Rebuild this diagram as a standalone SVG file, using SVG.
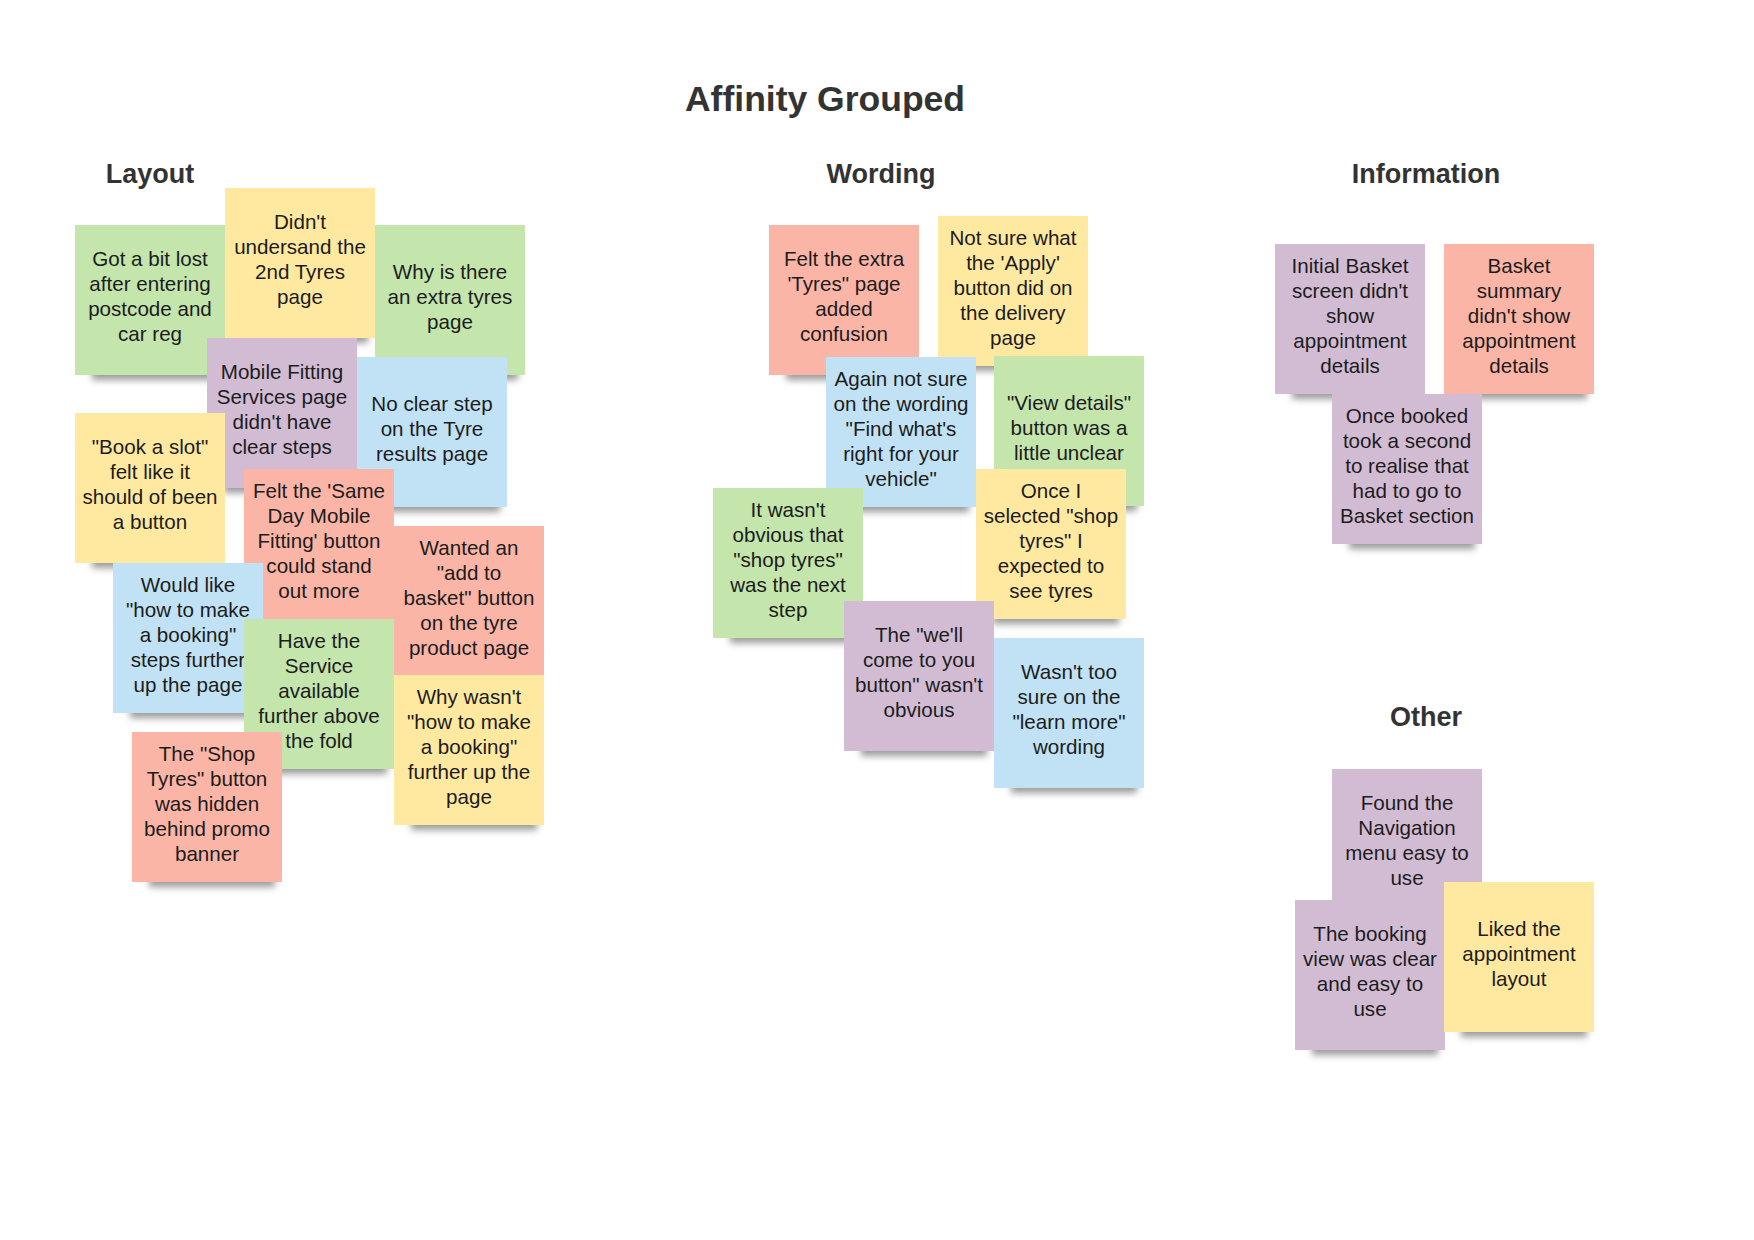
<svg xmlns="http://www.w3.org/2000/svg" width="1754" height="1240" viewBox="0 0 1754 1240">
  <defs>
    <filter id="soft" x="-20%" y="-100%" width="140%" height="300%">
      <feGaussianBlur stdDeviation="3.5"/>
    </filter>
    <style>
      .title { font-family: "Liberation Sans", Arial, sans-serif; font-weight: bold; font-size: 35.5px; fill: #333; text-anchor: middle; }
      .head { font-family: "Liberation Sans", Arial, sans-serif; font-weight: bold; font-size: 27px; fill: #333; text-anchor: middle; }
      .note text { font-family: "Liberation Sans", Arial, sans-serif; font-size: 20.6px; fill: #1c1c1c; text-anchor: middle; transform: translateY(-2.5px); }
      .shadow { fill: #4a4a4a; opacity: 0.55; filter: url(#soft); }
      .green { fill: #c4e5ac; }
      .yellow { fill: #ffe9a0; }
      .purple { fill: #d2bcd4; }
      .blue { fill: #c1e2f4; }
      .red { fill: #fbb5a6; }
    </style>
  </defs>

  <rect width="1754" height="1240" fill="#ffffff"/>

  <text class="title" x="825" y="111">Affinity Grouped</text>
  <text class="head" x="150" y="183">Layout</text>
  <text class="head" x="881" y="183">Wording</text>
  <text class="head" x="1426" y="183">Information</text>
  <text class="head" x="1426" y="726">Other</text>

  <!-- Layout cluster -->
  <g id="layout-lost" class="note">
    <rect class="shadow" x="92" y="366" width="126" height="14"/>
    <rect class="green" x="75" y="225" width="150" height="150"/>
    <text x="150" y="268.5">Got a bit lost</text>
    <text x="150" y="293.5">after entering</text>
    <text x="150" y="318.5">postcode and</text>
    <text x="150" y="343.5">car reg</text>
  </g>
  <g id="layout-understand" class="note">
    <rect class="shadow" x="242" y="329" width="126" height="14"/>
    <rect class="yellow" x="225" y="188" width="150" height="150"/>
    <text x="300" y="231.5">Didn't</text>
    <text x="300" y="256.5">undersand the</text>
    <text x="300" y="281.5">2nd Tyres</text>
    <text x="300" y="306.5">page</text>
  </g>
  <g id="layout-extra-tyres" class="note">
    <rect class="shadow" x="392" y="366" width="126" height="14"/>
    <rect class="green" x="375" y="225" width="150" height="150"/>
    <text x="450" y="281">Why is there</text>
    <text x="450" y="306">an extra tyres</text>
    <text x="450" y="331">page</text>
  </g>
  <g id="layout-mobile-fitting" class="note">
    <rect class="shadow" x="224" y="479" width="126" height="14"/>
    <rect class="purple" x="207" y="338" width="150" height="150"/>
    <text x="282" y="381.5">Mobile Fitting</text>
    <text x="282" y="406.5">Services page</text>
    <text x="282" y="431.5">didn't have</text>
    <text x="282" y="456.5">clear steps</text>
  </g>
  <g id="layout-no-clear-step" class="note">
    <rect class="shadow" x="374" y="498" width="126" height="14"/>
    <rect class="blue" x="357" y="357" width="150" height="150"/>
    <text x="432" y="413">No clear step</text>
    <text x="432" y="438">on the Tyre</text>
    <text x="432" y="463">results page</text>
  </g>
  <g id="layout-book-slot" class="note">
    <rect class="shadow" x="92" y="554" width="126" height="14"/>
    <rect class="yellow" x="75" y="413" width="150" height="150"/>
    <text x="150" y="456.5">"Book a slot"</text>
    <text x="150" y="481.5">felt like it</text>
    <text x="150" y="506.5">should of been</text>
    <text x="150" y="531.5">a button</text>
  </g>
  <g id="layout-same-day" class="note">
    <rect class="shadow" x="261" y="610" width="126" height="14"/>
    <rect class="red" x="244" y="469" width="150" height="150"/>
    <text x="319" y="500">Felt the 'Same</text>
    <text x="319" y="525">Day Mobile</text>
    <text x="319" y="550">Fitting' button</text>
    <text x="319" y="575">could stand</text>
    <text x="319" y="600">out more</text>
  </g>
  <g id="layout-how-to-book" class="note">
    <rect class="shadow" x="130" y="704" width="126" height="14"/>
    <rect class="blue" x="113" y="563" width="150" height="150"/>
    <text x="188" y="594">Would like</text>
    <text x="188" y="619">"how to make</text>
    <text x="188" y="644">a booking"</text>
    <text x="188" y="669">steps further</text>
    <text x="188" y="694">up the page</text>
  </g>
  <g id="layout-add-basket" class="note">
    <rect class="shadow" x="411" y="667" width="126" height="14"/>
    <rect class="red" x="394" y="526" width="150" height="150"/>
    <text x="469" y="557">Wanted an</text>
    <text x="469" y="582">"add to</text>
    <text x="469" y="607">basket" button</text>
    <text x="469" y="632">on the tyre</text>
    <text x="469" y="657">product page</text>
  </g>
  <g id="layout-above-fold" class="note">
    <rect class="shadow" x="261" y="760" width="126" height="14"/>
    <rect class="green" x="244" y="619" width="150" height="150"/>
    <text x="319" y="650">Have the</text>
    <text x="319" y="675">Service</text>
    <text x="319" y="700">available</text>
    <text x="319" y="725">further above</text>
    <text x="319" y="750">the fold</text>
  </g>
  <g id="layout-why-wasnt" class="note">
    <rect class="shadow" x="411" y="816" width="126" height="14"/>
    <rect class="yellow" x="394" y="675" width="150" height="150"/>
    <text x="469" y="706">Why wasn't</text>
    <text x="469" y="731">"how to make</text>
    <text x="469" y="756">a booking"</text>
    <text x="469" y="781">further up the</text>
    <text x="469" y="806">page</text>
  </g>
  <g id="layout-shop-tyres" class="note">
    <rect class="shadow" x="149" y="873" width="126" height="14"/>
    <rect class="red" x="132" y="732" width="150" height="150"/>
    <text x="207" y="763">The "Shop</text>
    <text x="207" y="788">Tyres" button</text>
    <text x="207" y="813">was hidden</text>
    <text x="207" y="838">behind promo</text>
    <text x="207" y="863">banner</text>
  </g>

  <!-- Wording cluster -->
  <g id="wording-extra-page" class="note">
    <rect class="shadow" x="786" y="366" width="126" height="14"/>
    <rect class="red" x="769" y="225" width="150" height="150"/>
    <text x="844" y="268.5">Felt the extra</text>
    <text x="844" y="293.5">'Tyres" page</text>
    <text x="844" y="318.5">added</text>
    <text x="844" y="343.5">confusion</text>
  </g>
  <g id="wording-apply" class="note">
    <rect class="shadow" x="955" y="357" width="126" height="14"/>
    <rect class="yellow" x="938" y="216" width="150" height="150"/>
    <text x="1013" y="247">Not sure what</text>
    <text x="1013" y="272">the 'Apply'</text>
    <text x="1013" y="297">button did on</text>
    <text x="1013" y="322">the delivery</text>
    <text x="1013" y="347">page</text>
  </g>
  <g id="wording-find-whats-right" class="note">
    <rect class="shadow" x="843" y="498" width="126" height="14"/>
    <rect class="blue" x="826" y="357" width="150" height="150"/>
    <text x="901" y="388">Again not sure</text>
    <text x="901" y="413">on the wording</text>
    <text x="901" y="438">"Find what's</text>
    <text x="901" y="463">right for your</text>
    <text x="901" y="488">vehicle"</text>
  </g>
  <g id="wording-view-details" class="note">
    <rect class="shadow" x="1011" y="497" width="126" height="14"/>
    <rect class="green" x="994" y="356" width="150" height="150"/>
    <text x="1069" y="412">"View details"</text>
    <text x="1069" y="437">button was a</text>
    <text x="1069" y="462">little unclear</text>
  </g>
  <g id="wording-shop-tyres-expect" class="note">
    <rect class="shadow" x="993" y="610" width="126" height="14"/>
    <rect class="yellow" x="976" y="469" width="150" height="150"/>
    <text x="1051" y="500">Once I</text>
    <text x="1051" y="525">selected "shop</text>
    <text x="1051" y="550">tyres" I</text>
    <text x="1051" y="575">expected to</text>
    <text x="1051" y="600">see tyres</text>
  </g>
  <g id="wording-next-step" class="note">
    <rect class="shadow" x="730" y="629" width="126" height="14"/>
    <rect class="green" x="713" y="488" width="150" height="150"/>
    <text x="788" y="519">It wasn't</text>
    <text x="788" y="544">obvious that</text>
    <text x="788" y="569">"shop tyres"</text>
    <text x="788" y="594">was the next</text>
    <text x="788" y="619">step</text>
  </g>
  <g id="wording-come-to-you" class="note">
    <rect class="shadow" x="861" y="742" width="126" height="14"/>
    <rect class="purple" x="844" y="601" width="150" height="150"/>
    <text x="919" y="644.5">The "we'll</text>
    <text x="919" y="669.5">come to you</text>
    <text x="919" y="694.5">button" wasn't</text>
    <text x="919" y="719.5">obvious</text>
  </g>
  <g id="wording-learn-more" class="note">
    <rect class="shadow" x="1011" y="779" width="126" height="14"/>
    <rect class="blue" x="994" y="638" width="150" height="150"/>
    <text x="1069" y="681.5">Wasn't too</text>
    <text x="1069" y="706.5">sure on the</text>
    <text x="1069" y="731.5">"learn more"</text>
    <text x="1069" y="756.5">wording</text>
  </g>

  <!-- Information cluster -->
  <g id="info-initial-basket" class="note">
    <rect class="shadow" x="1292" y="385" width="126" height="14"/>
    <rect class="purple" x="1275" y="244" width="150" height="150"/>
    <text x="1350" y="275">Initial Basket</text>
    <text x="1350" y="300">screen didn't</text>
    <text x="1350" y="325">show</text>
    <text x="1350" y="350">appointment</text>
    <text x="1350" y="375">details</text>
  </g>
  <g id="info-basket-summary" class="note">
    <rect class="shadow" x="1461" y="385" width="126" height="14"/>
    <rect class="red" x="1444" y="244" width="150" height="150"/>
    <text x="1519" y="275">Basket</text>
    <text x="1519" y="300">summary</text>
    <text x="1519" y="325">didn't show</text>
    <text x="1519" y="350">appointment</text>
    <text x="1519" y="375">details</text>
  </g>
  <g id="info-basket-section" class="note">
    <rect class="shadow" x="1349" y="535" width="126" height="14"/>
    <rect class="purple" x="1332" y="394" width="150" height="150"/>
    <text x="1407" y="425">Once booked</text>
    <text x="1407" y="450">took a second</text>
    <text x="1407" y="475">to realise that</text>
    <text x="1407" y="500">had to go to</text>
    <text x="1407" y="525">Basket section</text>
  </g>

  <!-- Other cluster -->
  <g id="other-navigation" class="note">
    <rect class="shadow" x="1349" y="910" width="126" height="14"/>
    <rect class="purple" x="1332" y="769" width="150" height="150"/>
    <text x="1407" y="812.5">Found the</text>
    <text x="1407" y="837.5">Navigation</text>
    <text x="1407" y="862.5">menu easy to</text>
    <text x="1407" y="887.5">use</text>
  </g>
  <g id="other-booking-view" class="note">
    <rect class="shadow" x="1312" y="1041" width="126" height="14"/>
    <rect class="purple" x="1295" y="900" width="150" height="150"/>
    <text x="1370" y="943.5">The booking</text>
    <text x="1370" y="968.5">view was clear</text>
    <text x="1370" y="993.5">and easy to</text>
    <text x="1370" y="1018.5">use</text>
  </g>
  <g id="other-appointment-layout" class="note">
    <rect class="shadow" x="1461" y="1023" width="126" height="14"/>
    <rect class="yellow" x="1444" y="882" width="150" height="150"/>
    <text x="1519" y="938">Liked the</text>
    <text x="1519" y="963">appointment</text>
    <text x="1519" y="988">layout</text>
  </g>
</svg>
